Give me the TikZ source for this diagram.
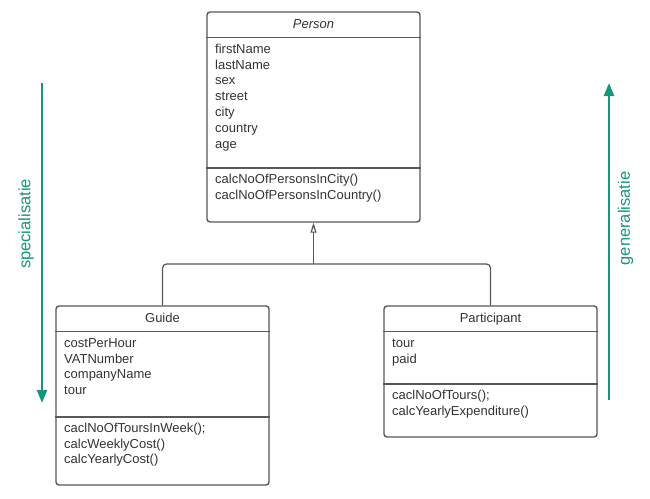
\documentclass[tikz,border=0pt]{standalone}
\usepackage{fontspec}
\setmainfont{Liberation Sans}
\usepackage{tikz}
\usetikzlibrary{
  arrows.meta,
  matrix,
  positioning
}
\definecolor{umlgrey}{RGB}{88,88,88}
\definecolor{umltext}{RGB}{51,51,51}
\definecolor{arrowgreen}{RGB}{22,150,122}

\begin{document}
\begin{tikzpicture}[
      x=1pt, y=-1pt,
      classbox/.style={
         rectangle,
         rounded corners=3pt,
         line width=1.4pt,
         draw=umlgrey,
         inner sep=0pt
      },
      classname/.style={
         minimum height=26pt,
         inner sep=0pt,
         text=umltext,
         font=\fontsize{13}{15.8}\selectfont,
         text height=11.5pt,
         text depth=4.3pt
      },
      member/.style={
         anchor=base west,
         inner sep=0pt,
         text=umltext,
         font=\fontsize{13}{15.8}\selectfont,
         text height=11.5pt,
         text depth=4.3pt
      },
      members/.style={
         matrix anchor=north west,
         inner sep=0pt,
         row sep=0pt
      },
      divider/.style={line width=1.4pt, draw=umlgrey},
      inherit/.style={line width=1.2pt, draw=umlgrey, rounded corners=4pt},
      sidearrow/.style={
         line width=2.4pt, draw=arrowgreen,
         -{Triangle[length=13pt,width=10pt]}
      },
      sidelabel/.style={
         rotate=90, inner sep=0pt,
         text=arrowgreen,
         font=\fontsize{16.5}{20}\selectfont
      }
    ]
    \useasboundingbox (0,0) rectangle (650,498);

    % class boxes
    \node (person) [classbox, minimum width=213pt, minimum height=210pt] at (313.5,117) {};
    \node (guide) [classbox, minimum width=213pt, minimum height=179pt] at (162.5,395.5) {};
    \node (participant) [classbox, minimum width=213pt, minimum height=131pt] at (490.5,371.5) {};

    % Person
    \node (person name) [classname, font=\fontsize{13}{15.8}\selectfont\itshape, below=0pt of person.north] {Person};
    \draw[divider] (person.west |- person name.south) -- (person.east |- person name.south);
    \matrix (person attrs) [members] at (215,41.5) {
      \node (per1) [member] {firstName}; \\
      \node (per2) [member] {lastName}; \\
      \node (per3) [member] {sex}; \\
      \node (per4) [member] {street}; \\
      \node (per5) [member] {city}; \\
      \node (per6) [member] {country}; \\
      \node (per7) [member] {age}; \\
    };
    \coordinate (person split) at (313.5,168);
    \draw[divider] (person.west |- person split) -- (person.east |- person split);
    \matrix (person ops) [members] at (215,171.5) {
      \node (perm1) [member] {calcNoOfPersonsInCity()}; \\
      \node (perm2) [member] {caclNoOfPersonsInCountry()}; \\
    };

    % Guide
    \node (guide name) [classname, below=0pt of guide.north] {Guide};
    \draw[divider] (guide.west |- guide name.south) -- (guide.east |- guide name.south);
    \matrix (guide attrs) [members] at (64,335.5) {
      \node (gui1) [member] {costPerHour}; \\
      \node (gui2) [member] {VATNumber}; \\
      \node (gui3) [member] {companyName}; \\
      \node (gui4) [member] {tour}; \\
    };
    \coordinate (guide split) at (162.5,417);
    \draw[divider] (guide.west |- guide split) -- (guide.east |- guide split);
    \matrix (guide ops) [members] at (64,420.5) {
      \node (guim1) [member] {caclNoOfToursInWeek();}; \\
      \node (guim2) [member] {calcWeeklyCost()}; \\
      \node (guim3) [member] {calcYearlyCost()}; \\
    };

    % Participant
    \node (participant name) [classname, below=0pt of participant.north] {Participant};
    \draw[divider] (participant.west |- participant name.south) -- (participant.east |- participant name.south);
    \matrix (participant attrs) [members] at (392,335.5) {
      \node (par1) [member] {tour}; \\
      \node (par2) [member] {paid}; \\
    };
    \coordinate (participant split) at (490.5,384);
    \draw[divider] (participant.west |- participant split) -- (participant.east |- participant split);
    \matrix (participant ops) [members] at (392,387.5) {
      \node (parm1) [member] {caclNoOfTours();}; \\
      \node (parm2) [member] {calcYearlyExpenditure()}; \\
    };

    % generalisation
    \coordinate (junction) at (313.5,264);
    \draw[inherit] (guide.north) |- (junction);
    \draw[inherit] (participant.north) |- (junction);
    \draw[inherit, -{Triangle[open,length=10pt,width=6pt]}] (junction) -- (person.south);

    % side arrows
    \coordinate (spec start) at (42,83);
    \coordinate (spec end) at (42,403);
    \draw[sidearrow] (spec start) -- (spec end);
    \node (spec label) [sidelabel] at (26,224) {specialisatie};
    \coordinate (gen start) at (609,400);
    \coordinate (gen end) at (609,83);
    \draw[sidearrow] (gen start) -- (gen end);
    \node (gen label) [sidelabel] at (625.5,218.5) {generalisatie};
\end{tikzpicture}
\end{document}
